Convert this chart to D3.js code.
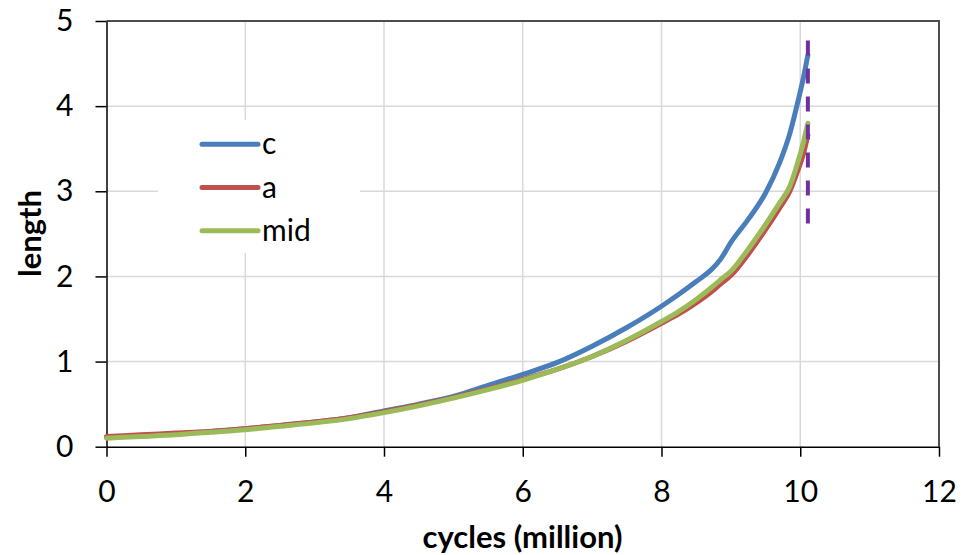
<!doctype html>
<html>
  <head>
    <title>crack length vs cycles</title>
    <script src="https://cdn.jsdelivr.net/npm/d3@7"></script>
    <style>
    body { margin: 0; background: #fff; }
    text { font-family: Lato, "Open Sans", sans-serif; fill: #000; }
    .tick text { font-size: 30px; }
    .axis-title { font-size: 31px; font-weight: bold; }
    .legend text { font-size: 30px; }
    .grid line { stroke: #d9d9d9; stroke-width: 1.5; }
    </style>
  </head>
  <body>
    <script>
      var w_svg = 975;
      var h_svg = 555;

      // data (cycles in million, length)
      var cycles = [0, 0.5, 1, 1.5, 2, 2.5, 3, 3.5, 4, 4.5, 5, 5.5, 6, 6.5, 7, 7.5, 8,
                    8.25, 8.5, 8.72, 8.85, 9, 9.25, 9.5, 9.7, 9.85, 9.95, 10.05, 10.11];
      var len_c = [0.11, 0.13, 0.15, 0.18, 0.21, 0.25, 0.29, 0.34, 0.42, 0.50, 0.59, 0.72, 0.85, 0.99, 1.18, 1.40, 1.65,
                   1.79, 1.94, 2.08, 2.20, 2.40, 2.67, 2.98, 3.33, 3.68, 4.00, 4.35, 4.60];
      var len_a = [0.12, 0.14, 0.16, 0.18, 0.21, 0.25, 0.29, 0.34, 0.41, 0.49, 0.58, 0.68, 0.79, 0.91, 1.06, 1.24, 1.45,
                   1.56, 1.69, 1.82, 1.91, 2.01, 2.26, 2.55, 2.80, 3.00, 3.21, 3.45, 3.66];
      var len_mid = [0.10, 0.12, 0.14, 0.17, 0.20, 0.24, 0.28, 0.33, 0.40, 0.48, 0.57, 0.67, 0.78, 0.91, 1.06, 1.25, 1.47,
                     1.59, 1.73, 1.87, 1.96, 2.06, 2.32, 2.61, 2.86, 3.06, 3.30, 3.59, 3.80];

      var series_names = ["c", "a", "mid"];
      var series_colors = ["#4a7ebb", "#c0504d", "#9bbb59"];
      var series_values = [len_c, len_a, len_mid];

      var x_ticks = [0, 2, 4, 6, 8, 10, 12];
      var y_ticks = [0, 1, 2, 3, 4, 5];

      // failure marker (purple dashed line)
      var fail_cycle = 10.11;
      var fail_range = [2.61, 4.77];

      var svg = d3.select("body")
                  .append("svg")
                  .attr("width", w_svg)
                  .attr("height", h_svg);

      var x = d3.scaleLinear().domain([0, 12]).range([106.5, 939]);
      var y = d3.scaleLinear().domain([0, 5]).range([446.7, 21]);

      // gridlines
      var grid = svg.append("g").attr("class", "grid");
      grid.selectAll(".gx")
          .data(x_ticks.slice(1, -1))
          .enter().append("line")
          .attr("x1", function(d) { return x(d); })
          .attr("x2", function(d) { return x(d); })
          .attr("y1", y(0))
          .attr("y2", y(5));
      grid.selectAll(".gy")
          .data(y_ticks.slice(1, -1))
          .enter().append("line")
          .attr("x1", x(0))
          .attr("x2", x(12))
          .attr("y1", function(d) { return y(d); })
          .attr("y2", function(d) { return y(d); });

      // plot frame (top / right)
      svg.append("path")
         .attr("d", "M" + x(0) + "," + y(5) + "H" + x(12) + "V" + y(0))
         .attr("fill", "none")
         .attr("stroke", "#4d4d4d")
         .attr("stroke-width", 2);

      // axes
      var xAxis = svg.append("g")
                     .attr("transform", "translate(0," + y(0) + ")")
                     .call(d3.axisBottom(x).tickValues(x_ticks).tickFormat(d3.format("d"))
                             .tickSize(10).tickSizeOuter(0).tickPadding(24));
      var yAxis = svg.append("g")
                     .attr("transform", "translate(" + x(0) + ",0)")
                     .call(d3.axisLeft(y).tickValues(y_ticks).tickFormat(d3.format("d"))
                             .tickSize(11).tickSizeOuter(0).tickPadding(22));
      [xAxis, yAxis].forEach(function(a) {
        a.attr("font-size", null).attr("font-family", null);
        a.select(".domain").attr("stroke", "#000").attr("stroke-width", 1.5);
        a.selectAll(".tick line").attr("stroke", "#000").attr("stroke-width", 1.5);
      });

      // series lines
      var line = d3.line()
                   .curve(d3.curveMonotoneX)
                   .x(function(d) { return x(d[0]); })
                   .y(function(d) { return y(d[1]); });

      series_values.forEach(function(vals, k) {
        var pts = cycles.map(function(c, i) { return [c, vals[i]]; });
        svg.append("path")
           .datum(pts)
           .attr("d", line)
           .attr("fill", "none")
           .attr("stroke", series_colors[k])
           .attr("stroke-width", 5)
           .attr("stroke-linejoin", "round")
           .attr("stroke-linecap", "round");
      });

      // dashed failure line
      svg.append("line")
         .attr("x1", x(fail_cycle))
         .attr("x2", x(fail_cycle))
         .attr("y1", y(fail_range[1]))
         .attr("y2", y(fail_range[0]))
         .attr("stroke", "#7030a0")
         .attr("stroke-width", 4)
         .attr("stroke-dasharray", "15,13");

      // legend
      var legend = svg.append("g").attr("class", "legend");
      legend.append("rect")
            .attr("x", 158).attr("y", 120)
            .attr("width", 202).attr("height", 133)
            .attr("fill", "#fff");
      var items = legend.selectAll(".item")
                        .data(series_names)
                        .enter().append("g")
                        .attr("transform", function(d, i) { return "translate(0," + (144.3 + i * 43.2) + ")"; });
      items.append("line")
           .attr("x1", 202).attr("x2", 258)
           .attr("stroke", function(d, i) { return series_colors[i]; })
           .attr("stroke-width", 5)
           .attr("stroke-linecap", "round");
      items.append("text")
           .attr("x", 262).attr("y", 10)
           .text(function(d) { return d; });

      // axis titles
      svg.append("text")
         .attr("class", "axis-title")
         .attr("x", 522.5).attr("y", 548)
         .attr("text-anchor", "middle")
         .text("cycles (million)");
      svg.append("text")
         .attr("class", "axis-title")
         .attr("transform", "translate(41,233.5) rotate(-90)")
         .attr("text-anchor", "middle")
         .text("length");
    </script>
  </body>
</html>
